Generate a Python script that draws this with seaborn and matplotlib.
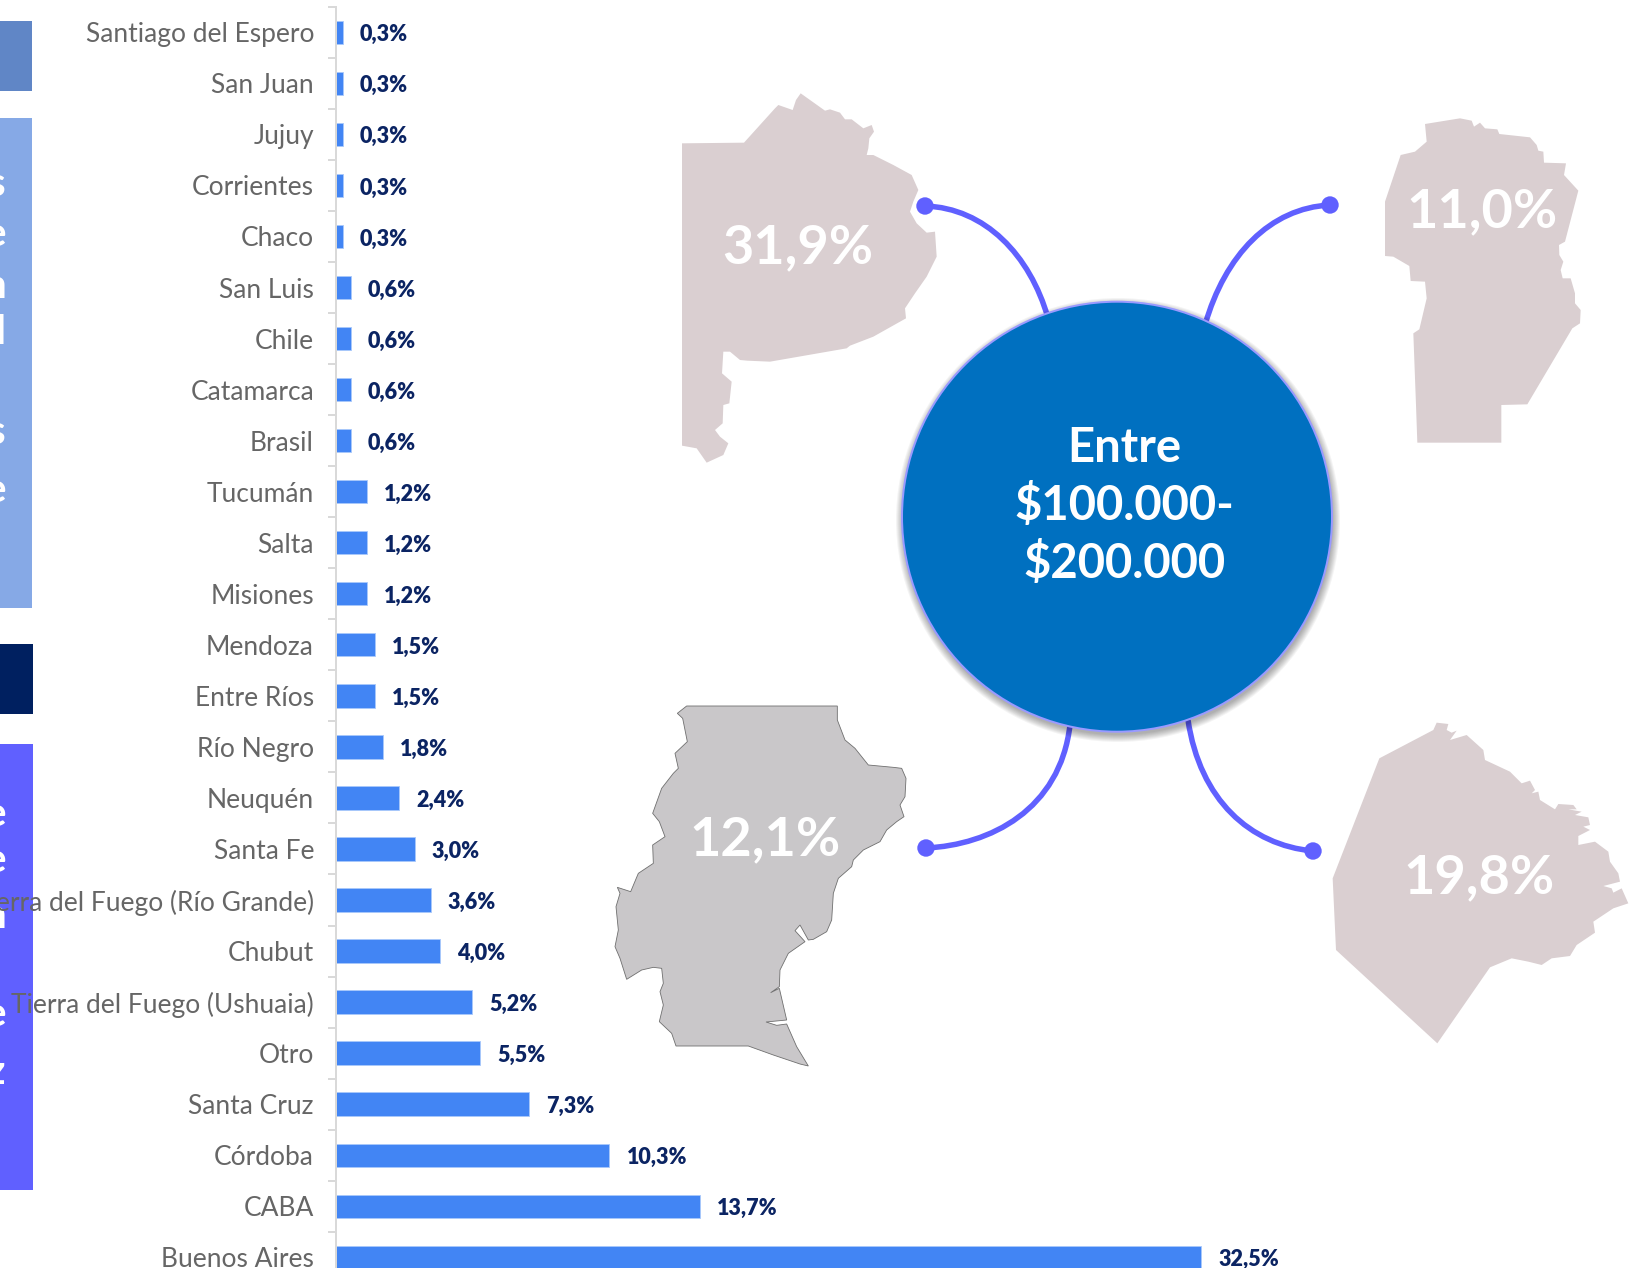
#! /usr/bin/env python3

import matplotlib
matplotlib.use("Agg")
import matplotlib.pyplot as plt
from matplotlib.patches import Circle, PathPatch, Polygon, Rectangle
from matplotlib.path import Path
import pandas as pd
import seaborn as sns

WIDTH, HEIGHT = 1645, 1268
PX = 72 / 100  # one pixel in points, dpi is 100

provinces = ["Santiago del Espero", "San Juan", "Jujuy", "Corrientes", "Chaco",
             "San Luis", "Chile", "Catamarca", "Brasil", "Tucumán", "Salta",
             "Misiones", "Mendoza", "Entre Ríos", "Río Negro", "Neuquén",
             "Santa Fe", "Tierra del Fuego (Río Grande)", "Chubut",
             "Tierra del Fuego (Ushuaia)", "Otro", "Santa Cruz", "Córdoba",
             "CABA", "Buenos Aires"]
shares = [0.3, 0.3, 0.3, 0.3, 0.3, 0.6, 0.6, 0.6, 0.6, 1.2, 1.2, 1.2, 1.5, 1.5,
          1.8, 2.4, 3.0, 3.6, 3.95, 5.15, 5.45, 7.27, 10.3, 13.7, 32.5]

center_label = "Entre\n$100.000-\n$200.000"
map_shares = ["31,9%", "11,0%", "12,1%", "19,8%"]

BAR = "#4285f4"
NAVY = "#0b2463"
VIOLET = "#6060ff"
MAP_PINK = "#dacfd1"
MAP_GREY = "#c9c7c9"

OUTLINE_BA = [(66, 190), (252, 188), (345, 85), (355, 75), (398, 90), (408, 60), (422, 40),
              (495, 92), (510, 88), (540, 98), (555, 118), (575, 118), (610, 145), (635, 135),
              (642, 155), (628, 175), (625, 205), (620, 225), (640, 225), (700, 255), (755, 285),
              (775, 330), (760, 365), (750, 395), (770, 430), (800, 458), (825, 455), (830, 530),
              (800, 590), (765, 640), (735, 685), (738, 715), (640, 770), (570, 797), (560, 805),
              (330, 845), (262, 842), (240, 840), (210, 815), (190, 815), (186, 880), (215, 905),
              (208, 970), (190, 975), (188, 1030), (165, 1050), (180, 1070), (205, 1090),
              (190, 1125), (140, 1148), (110, 1105), (66, 1097)]
HOLE_BA = [(205, 860), (225, 855), (242, 880), (222, 885), (205, 875)]
OUTLINE_CBA = [(195, 72), (300, 55), (335, 62), (342, 80), (360, 68), (375, 85), (412, 88),
               (418, 102), (510, 112), (530, 135), (535, 152), (550, 155), (552, 188), (618, 190),
               (612, 225), (655, 272), (615, 425), (597, 435), (598, 465), (610, 485), (602, 510),
               (608, 535), (632, 535), (645, 580), (645, 610), (662, 630), (660, 670), (637, 685),
               (502, 913), (424, 915), (424, 1028), (172, 1028), (168, 915), (160, 700), (178, 688),
               (200, 595), (195, 545), (152, 543), (148, 498), (100, 470), (75, 468), (75, 305),
               (122, 165), (165, 155), (200, 125)]
OUTLINE_PATAGONIA = [(260, 48), (712, 48), (712, 90), (735, 150), (765, 175), (805, 225), (880, 232),
                     (905, 235), (918, 265), (915, 320), (900, 345), (912, 380), (890, 395),
                     (860, 420), (840, 455), (790, 480), (760, 510), (755, 530), (715, 565),
                     (700, 610), (695, 690), (680, 725), (640, 748), (625, 750), (600, 705),
                     (585, 722), (615, 755), (565, 790), (540, 840), (538, 890), (512, 908),
                     (538, 895), (560, 990), (498, 996), (530, 1006), (560, 1002), (590, 1070),
                     (625, 1128), (600, 1122), (520, 1095), (445, 1068), (228, 1068), (215, 1030),
                     (178, 995), (190, 945), (180, 905), (190, 880), (185, 835), (160, 832),
                     (125, 840), (80, 868), (60, 805), (45, 770), (55, 720), (48, 650), (60, 610),
                     (52, 592), (92, 605), (115, 550), (160, 520), (158, 465), (195, 440),
                     (178, 395), (158, 370), (185, 295), (220, 250), (235, 235), (225, 190),
                     (262, 155), (248, 85), (232, 70)]
OUTLINE_PBA = [(350, 38), (385, 42), (380, 60), (395, 68), (410, 62), (390, 90), (440, 75), (490, 120),
               (495, 150), (570, 185), (605, 220), (630, 212), (645, 240), (635, 250), (655, 245),
               (660, 270), (705, 298), (715, 282), (760, 285), (770, 298), (745, 298), (785, 305),
               (765, 315), (805, 322), (810, 345), (790, 350), (810, 360), (775, 378), (775, 405),
               (825, 395), (865, 425), (870, 455), (895, 490), (900, 515), (850, 528), (875, 535),
               (880, 548), (905, 535), (925, 580), (880, 595), (820, 635), (825, 668), (770, 705),
               (750, 738), (695, 745), (665, 765), (625, 755), (575, 745), (510, 772), (352, 1000),
               (48, 720), (38, 505), (178, 145), (340, 60)]


def crop(points, x0, y0):
    return [(x / 3 + x0, y / 3 + y0) for x, y in points]


def draw_backdrop(ax):
    # side blocks, their text is cut off by the page edge
    for y0, y1, width, color in [(21, 91, 32, "#6086c6"), (118, 608, 32, "#86a9e6"),
                                 (644, 714, 33, "#002060"), (744, 1190, 33, VIOLET)]:
        ax.add_patch(Rectangle((0, y0), width, y1 - y0, color=color, lw=0))
    for letter, y in [("s", 184), ("e", 235), ("n", 287), ("l", 332), ("s", 432), ("e", 491),
                      ("e", 815), ("e", 861), ("n", 917), ("e", 1014), ("z", 1072)]:
        ax.text(6, y, letter, color="white", fontsize=29, fontweight="bold",
                ha="right", va="center", clip_on=True)

    # maps
    ax.add_patch(Polygon(crop(OUTLINE_BA, 660, 80), color=MAP_PINK, lw=0))
    ax.add_patch(Polygon(crop(HOLE_BA, 660, 80), color="white", lw=0))
    ax.add_patch(Polygon(crop(OUTLINE_CBA, 1360, 100), color=MAP_PINK, lw=0))
    ax.add_patch(Polygon(crop(OUTLINE_PATAGONIA, 600, 690), facecolor=MAP_GREY,
                         edgecolor="#6f6f6f", lw=0.6))
    ax.add_patch(Polygon(crop(OUTLINE_PBA, 1320, 710), color=MAP_PINK, lw=0))
    for label, x, y in zip(map_shares, [798, 1482, 765, 1479], [248, 212, 840, 878]):
        ax.text(x, y, label, color="white", fontsize=39, fontweight="bold",
                ha="center", va="center")

    # connectors run under the circle
    for p0, p1, p2, p3 in [((925, 206), (985, 208), (1030, 255), (1048, 318)),
                           ((1330, 205), (1270, 208), (1225, 255), (1205, 325)),
                           ((926, 848), (990, 845), (1060, 810), (1070, 725)),
                           ((1313, 851), (1250, 845), (1200, 800), (1188, 720))]:
        path = Path([p0, p1, p2, p3], [Path.MOVETO, Path.CURVE4, Path.CURVE4, Path.CURVE4])
        ax.add_patch(PathPatch(path, fill=False, edgecolor=VIOLET, lw=5.5 * PX))
        ax.add_patch(Circle(p0, 8.7, color=VIOLET, lw=0))

    # soft shadow, then the circle
    for i in range(8):
        ax.add_patch(Circle((1118, 520), 214 + (8 - i), color="black", alpha=0.045, lw=0))
    ax.add_patch(Circle((1117, 516.7), 215, facecolor="#0070c0", edgecolor="#9a9aff", lw=2 * PX))
    ax.text(1124, 506, center_label, color="white", fontsize=34, fontweight="bold",
            ha="center", va="center", linespacing=1.34)


def main():
    sns.set_theme(style="white")
    plt.rcParams["font.family"] = ["Lato", "DejaVu Sans"]

    df = pd.DataFrame({"province": provinces, "share": shares})

    fig = plt.figure(figsize=(WIDTH / 100, HEIGHT / 100), dpi=100, facecolor="white")

    back = fig.add_axes([0, 0, 1, 1], zorder=1)
    back.set_xlim(0, WIDTH)
    back.set_ylim(HEIGHT, 0)
    back.axis("off")
    draw_backdrop(back)

    # chart runs off the bottom of the page, same as the original crop
    top, bottom = 6.8, 1282.8
    ax = fig.add_axes([335 / WIDTH, (HEIGHT - bottom) / HEIGHT, 1 - 335 / WIDTH, (bottom - top) / HEIGHT],
                      zorder=2)
    ax.patch.set_alpha(0)
    sns.barplot(data=df, y="province", x="share", orient="h", color=BAR, saturation=1,
                width=0.457, edgecolor="#a9c9fb", linewidth=0.6, ax=ax)
    ax.set_xlim(0, (WIDTH - 335) / 26.65)
    ax.set_ylim(len(provinces) - 0.5, -0.5)
    ax.set(xlabel=None, ylabel=None, xticks=[])

    sns.despine(ax=ax, left=False, bottom=True)
    ax.spines["left"].set_position(("outward", -1 * PX))
    ax.spines["left"].set_color("#d9d9d9")
    ax.spines["left"].set_linewidth(2 * PX)

    ax.set_yticks([i - 0.5 for i in range(len(provinces) + 1)], minor=True)
    ax.tick_params(axis="y", which="minor", length=8 * PX, width=2 * PX, color="#d9d9d9", left=True)
    ax.tick_params(axis="y", which="major", length=0, pad=22 * PX, labelsize=19, labelcolor="#666666")

    labels = [f"{v:.1f}%".replace(".", ",") for v in shares]
    texts = ax.bar_label(ax.containers[0], labels=labels, padding=17 * PX, color=NAVY,
                         fontsize=15.5, fontweight="heavy")
    for t in texts:
        t.xyann = (t.xyann[0], t.xyann[1] - 2.5 * PX)

    fig.savefig("out.png", dpi=100, facecolor="white")
    plt.close(fig)


if __name__ == "__main__":
    main()
